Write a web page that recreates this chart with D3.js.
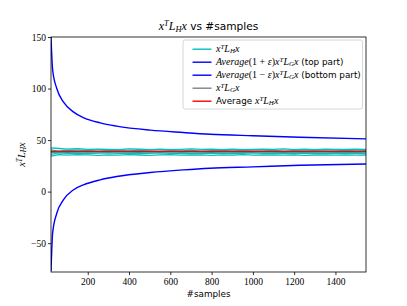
<!DOCTYPE html>
<html lang="en">
<head>
<meta charset="UTF-8">
<title>xTLHx vs #samples</title>
<script src="https://d3js.org/d3.v7.min.js"></script>
<style>
  body { margin: 0; background: #fff; }
  .sans { font-family: "DejaVu Sans", sans-serif; }
  .math { font-family: "Liberation Serif", "DejaVu Serif", serif; font-style: italic; }
  .tick text { font-family: "Liberation Serif", "DejaVu Serif", serif !important; }
</style>
</head>
<body>
<div id="chart"></div>
<script>
// envelope curves
var boundSamples = [22, 30, 50, 82, 130, 179, 260, 340, 502, 663, 792, 1000, 1228, 1548];
var topPart    = [150, 118, 100, 87, 77.4, 71.8, 66.7, 63.5, 59.6, 57.3, 55.7, 54.2, 52.8, 51.2];
var bottomPart = [-77, -40, -21, -8, 1.6, 6.5, 11.4, 14.6, 18.5, 21.1, 22.7, 24, 25.5, 26.8];

// individual x^T L_H x runs
var runSamples = [22, 60, 100, 150, 200, 250, 300, 350, 400, 450, 500, 550, 600, 650, 700, 750,
                  800, 850, 900, 950, 1000, 1050, 1100, 1150, 1200, 1250, 1300, 1350, 1400, 1450, 1500, 1548];
var run1 = [42.5, 41.8, 41.2, 41.6, 40.9, 41.3, 41.0, 40.6, 41.4, 41.1, 40.8, 41.2, 40.7, 41.0, 41.5, 40.9,
            41.1, 40.8, 41.3, 40.6, 41.0, 41.2, 40.9, 41.4, 40.8, 41.1, 40.7, 41.2, 41.0, 40.9, 41.3, 41.0];
var run2 = [40.5, 39.2, 40.1, 39.6, 39.9, 39.3, 40.0, 39.7, 39.4, 39.9, 39.6, 39.2, 39.8, 39.5, 39.9, 39.3,
            39.7, 40.0, 39.4, 39.8, 39.5, 39.6, 39.9, 39.3, 39.7, 39.5, 39.8, 39.4, 39.6, 39.9, 39.5, 39.7];
var run3 = [37.8, 38.6, 38.2, 38.9, 38.4, 38.7, 38.3, 38.8, 38.5, 38.2, 38.7, 38.4, 38.9, 38.3, 38.6, 38.5,
            38.2, 38.8, 38.4, 38.6, 38.3, 38.7, 38.5, 38.2, 38.6, 38.4, 38.8, 38.5, 38.3, 38.6, 38.4, 38.5];
var run4 = [36.2, 37.5, 37.0, 37.4, 36.9, 37.3, 37.6, 37.1, 37.4, 36.8, 37.2, 37.5, 37.0, 37.3, 36.9, 37.4,
            37.1, 37.3, 36.8, 37.2, 37.5, 37.0, 37.3, 37.1, 36.9, 37.4, 37.2, 37.0, 37.3, 37.1, 37.2, 37.0];
var run5 = [34.5, 35.8, 35.3, 35.9, 35.6, 35.2, 35.7, 35.4, 35.8, 35.5, 35.1, 35.6, 35.9, 35.3, 35.5, 35.7,
            35.2, 35.6, 35.4, 35.8, 35.3, 35.5, 35.7, 35.4, 35.6, 35.2, 35.5, 35.7, 35.4, 35.6, 35.3, 35.5];

var lgValue = 38.8;      // x^T L_G x
var avgValue = 38.9;     // average x^T L_H x

var xTicks = [200, 400, 600, 800, 1000, 1200, 1400];
var yTicks = [-50, 0, 50, 100, 150];
var xDomain = [22, 1548];
var yDomain = [-78, 150];

var W = 407, H = 306;
var margin = { top: 37, right: 41, bottom: 34, left: 51 };
var width = W - margin.left - margin.right,
    height = H - margin.top - margin.bottom;

var svg = d3.select("#chart").append("svg")
    .attr("width", W).attr("height", H);

var g = svg.append("g")
    .attr("transform", "translate(" + margin.left + "," + margin.top + ")");

var x = d3.scaleLinear().domain(xDomain).range([0, width]);
var y = d3.scaleLinear().domain(yDomain).range([height, 0]);

g.append("clipPath").attr("id", "clip")
  .append("rect").attr("width", width).attr("height", height);

var plot = g.append("g").attr("clip-path", "url(#clip)");

function pairs(xs, ys) { return xs.map(function(v, i) { return [v, ys[i]]; }); }

var runLine = d3.line()
    .x(function(d) { return x(d[0]); })
    .y(function(d) { return y(d[1]); });
var smoothLine = d3.line()
    .x(function(d) { return x(d[0]); })
    .y(function(d) { return y(d[1]); })
    .curve(d3.curveMonotoneX);

[run1, run2, run3, run4, run5].forEach(function(r) {
    plot.append("path")
        .attr("d", runLine(pairs(runSamples, r)))
        .attr("fill", "none").attr("stroke", "#00bfbf").attr("stroke-width", 1.3);
});

[topPart, bottomPart].forEach(function(b) {
    plot.append("path")
        .attr("d", smoothLine(pairs(boundSamples, b)))
        .attr("fill", "none").attr("stroke", "#0000ff").attr("stroke-width", 1.4);
});

plot.append("path")
    .attr("d", runLine([[xDomain[0], lgValue], [xDomain[1], lgValue]]))
    .attr("fill", "none").attr("stroke", "#808080").attr("stroke-width", 1.4);
plot.append("path")
    .attr("d", runLine([[xDomain[0], avgValue], [xDomain[1], avgValue]]))
    .attr("fill", "none").attr("stroke", "#ff0000").attr("stroke-width", 1.4);

// axes
var xAxis = g.append("g").attr("transform", "translate(0," + height + ")")
    .call(d3.axisBottom(x).tickValues(xTicks).tickSize(3.1).tickPadding(3).tickFormat(d3.format("d")));
var yAxis = g.append("g")
    .call(d3.axisLeft(y).tickValues(yTicks).tickSize(3.1).tickPadding(2)
        .tickFormat(function(d) { return d < 0 ? "\u2212" + Math.abs(d) : d; }));
[xAxis, yAxis].forEach(function(a) {
    a.attr("font-size", 9.5);
    a.selectAll(".tick text").attr("fill", "#000")
        .style("font-family", "'Liberation Serif', 'DejaVu Serif', serif");
    a.select(".domain").remove();
    a.selectAll(".tick line").attr("stroke", "#000").attr("stroke-width", 0.8);
});

g.append("rect").attr("width", width).attr("height", height)
    .attr("fill", "none").attr("stroke", "#000").attr("stroke-width", 0.8);

// rich text helper: parts = [text, kind, shift]; kind "m" math italic, "mr" math upright, "s" sans
function rich(sel, parts, size, msize) {
    parts.forEach(function(p) {
        var t = sel.append("tspan").text(p[0]);
        var cls = p[1] || "s";
        var fs = cls.indexOf("m") === 0 ? msize : size;
        t.attr("class", cls.indexOf("m") === 0 ? "math" : "sans").attr("font-size", fs);
        if (cls === "mr") t.style("font-style", "normal");
        if (p[2] === "sup") t.attr("baseline-shift", "45%").attr("font-size", fs * 0.7);
        if (p[2] === "sub") t.attr("baseline-shift", "-20%").attr("font-size", fs * 0.7);
    });
}

// title
var title = svg.append("text").attr("x", margin.left + width / 2).attr("y", 30)
    .attr("text-anchor", "middle");
rich(title, [["x", "m"], ["T", "m", "sup"], ["L", "m"], ["H", "m", "sub"], ["x", "m"], [" vs #samples", "s"]], 10.6, 12);

// axis labels
svg.append("text").attr("class", "sans").attr("x", margin.left + width / 2).attr("y", 297)
    .attr("text-anchor", "middle").attr("font-size", 8.8).text("#samples");

var ylab = svg.append("text")
    .attr("transform", "translate(25," + (margin.top + height / 2) + ") rotate(-90)")
    .attr("text-anchor", "middle");
rich(ylab, [["x", "m"], ["T", "m", "sup"], ["L", "m"], ["H", "m", "sub"], ["x", "m"]], 8.8, 10.5);

// legend
var legendItems = [
    { color: "#00bfbf", parts: [["x", "m"], ["T", "m", "sup"], ["L", "m"], ["H", "m", "sub"], ["x", "m"]] },
    { color: "#0000ff", parts: [["Average", "m"], ["(1 + ", "mr"], ["\u03b5", "m"], [")", "mr"], ["x", "m"], ["T", "m", "sup"], ["L", "m"], ["G", "m", "sub"], ["x", "m"], [" (top part)", "s"]] },
    { color: "#0000ff", parts: [["Average", "m"], ["(1 \u2212 ", "mr"], ["\u03b5", "m"], [")", "mr"], ["x", "m"], ["T", "m", "sup"], ["L", "m"], ["G", "m", "sub"], ["x", "m"], [" (bottom part)", "s"]] },
    { color: "#808080", parts: [["x", "m"], ["T", "m", "sup"], ["L", "m"], ["G", "m", "sub"], ["x", "m"]] },
    { color: "#ff0000", parts: [["Average ", "s"], ["x", "m"], ["T", "m", "sup"], ["L", "m"], ["H", "m", "sub"], ["x", "m"]] }
];

var lg = svg.append("g").attr("transform", "translate(183,40)");
lg.append("rect").attr("width", 179.5).attr("height", 69).attr("rx", 2)
    .attr("fill", "#fff").attr("fill-opacity", 0.8).attr("stroke", "#ccc").attr("stroke-width", 0.8);

legendItems.forEach(function(it, i) {
    var cy = 9.2 + i * 13;
    lg.append("line").attr("x1", 9.5).attr("x2", 28.5).attr("y1", cy).attr("y2", cy)
        .attr("stroke", it.color).attr("stroke-width", 1.4);
    var t = lg.append("text").attr("x", 33).attr("y", cy + 3.1);
    rich(t, it.parts, 8.8, 10);
});
</script>
</body>
</html>
